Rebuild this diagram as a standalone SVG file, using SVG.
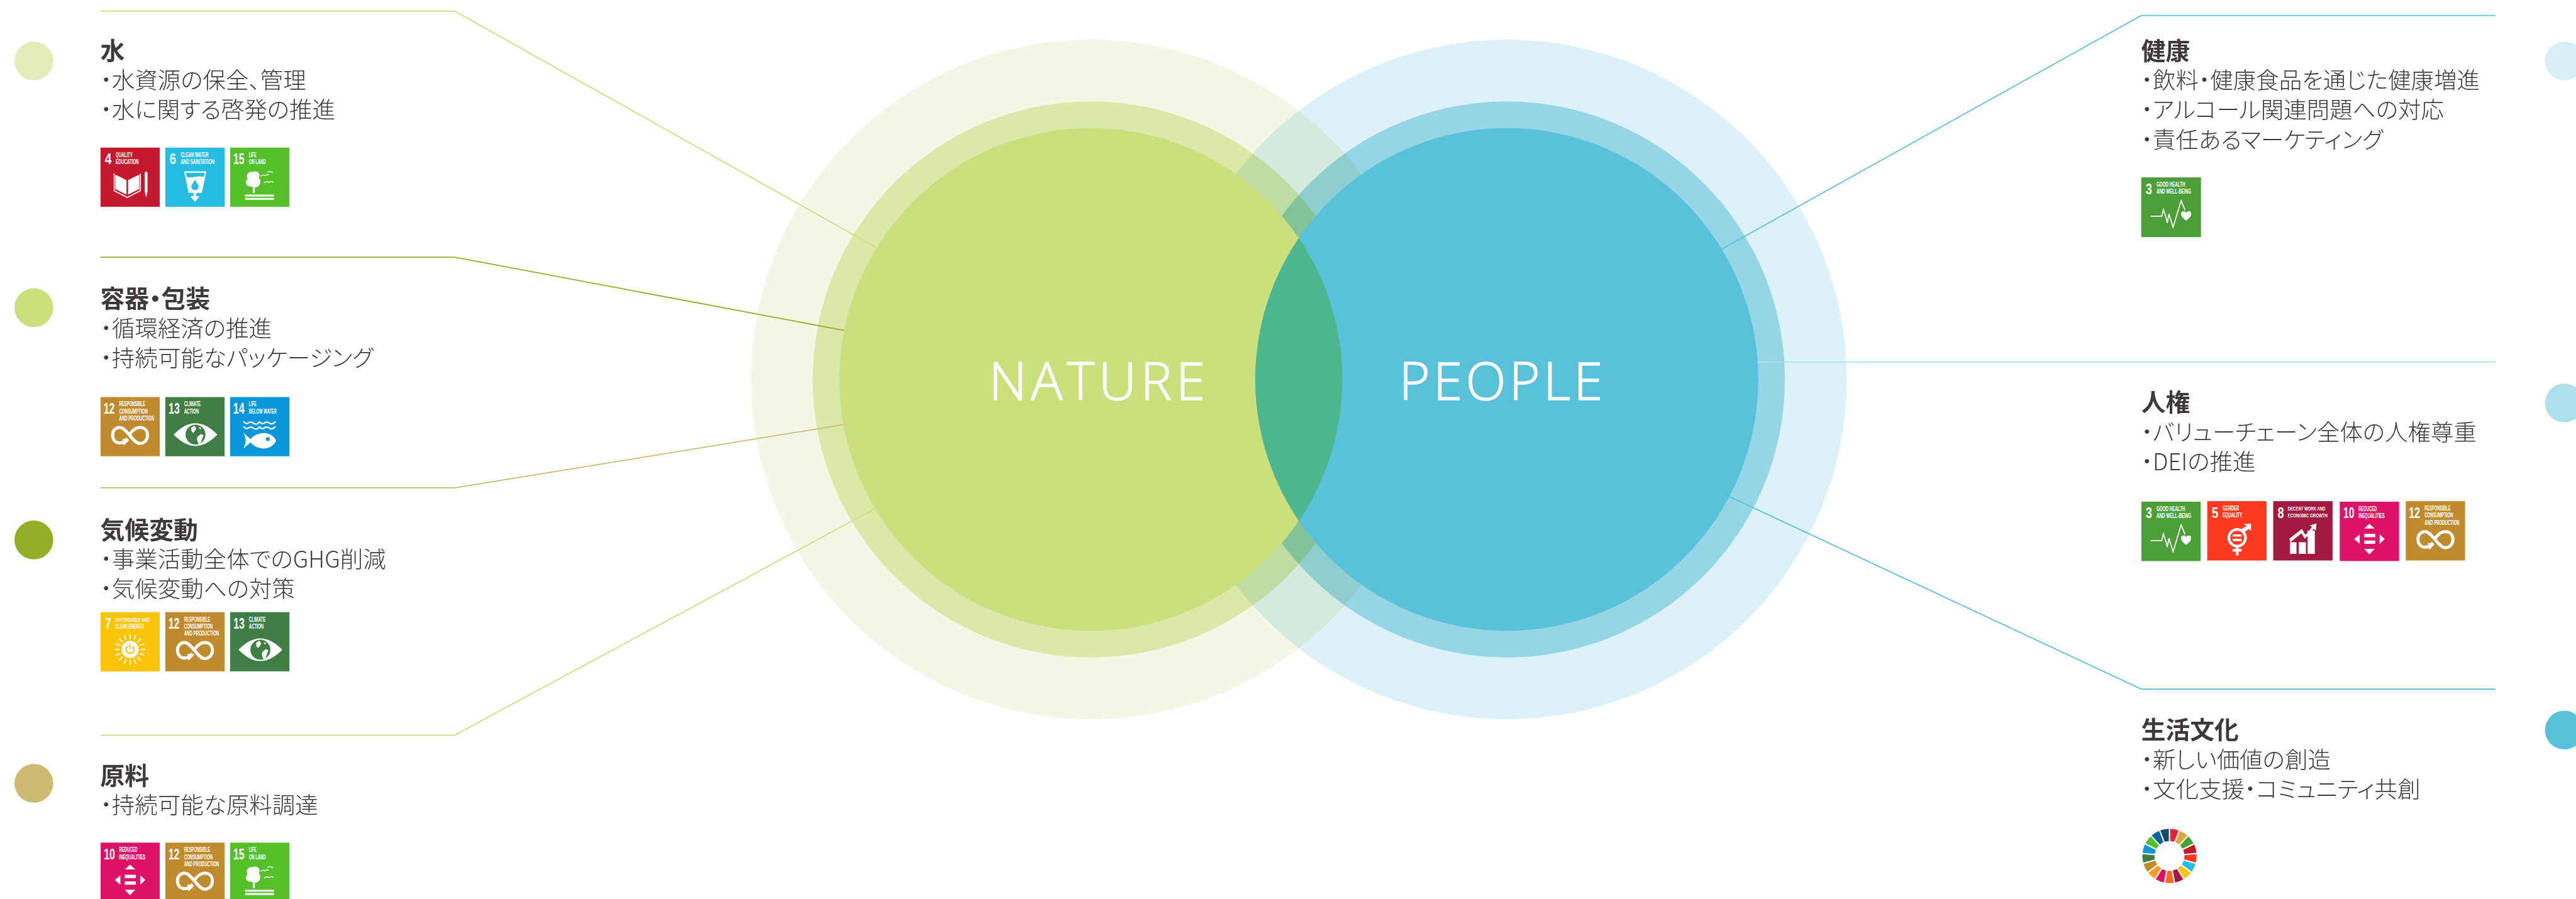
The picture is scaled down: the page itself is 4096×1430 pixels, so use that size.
<svg xmlns="http://www.w3.org/2000/svg" width="4096" height="1430" viewBox="0 0 4096 1430">
<style>
text{font-family:"Noto Sans CJK JP","Noto Sans",sans-serif}
.t{font-size:44px;font-weight:700;fill:#3e3a39;font-feature-settings:"palt"}
.b{font-size:41.400px;font-weight:300;fill:#3e3a39;font-feature-settings:"palt"}
.c{fill:none;stroke-width:2}
.v{font-family:"Open Sans",sans-serif;font-weight:300;font-size:95px;fill:#fff;stroke:#fff;stroke-width:1.500}
.n{font-family:"Liberation Sans Narrow","Liberation Sans",sans-serif;font-weight:700;font-size:27px;fill:#fff}
.l{font-family:"Liberation Sans Narrow","Liberation Sans",sans-serif;font-weight:700;font-size:11.500px;fill:#fff}
.s{font-size:9.500px}
.k{fill:none;stroke:#fff}
.w{fill:none;stroke-width:22;stroke-dasharray:1 16}
</style>
<defs>
<clipPath id="clipL"><circle cx="1967" cy="684.5" r="453.5"/></clipPath>
<g id="i4" fill="#fff"><path d="M27 49 47 59V85L27 75Z"/><path d="M70 49 50 59V85L70 75Z"/><path class="k" stroke-width="2" d="M25 47V78L48.5 90 72 78V47"/><path d="M80 46a2.5 2.5 0 0 1 5 0V80L82.5 90 80 80Z"/></g>
<g id="i6"><path fill="#fff" d="M34 43H74L66 82H56V88H62L53.5 98 45 88H51V82H42Z"/><path fill="#26bde2" d="M37 46H71L69.5 53Q62 51 54 53T38.5 53ZM53.5 58C50 65 47 67 47 70.5a6.5 6.5 0 0 0 13 0C60 67 57 65 53.5 58Z"/></g>
<g id="i15" fill="#fff"><circle cx="38" cy="52" r="8"/><circle cx="45" cy="51" r="8"/><circle cx="36" cy="63" r="7.5"/><circle cx="44" cy="62" r="10.500"/><rect x="41" y="73" width="3.500" height="9"/><rect x="27" y="85" width="52" height="3.500"/><rect x="27" y="91" width="52" height="3.500"/><path class="k" stroke-width="1.500" d="M55 52Q60 48 63 51Q66 48 70 50M67 45Q71 42 73 44Q75 43 77 46M61 64Q66 60 70 63Q74 60 78 63"/></g>
<g id="i12"><path class="k" stroke-width="5.500" d="M35 83C26 83 22 76 22 69C22 61 27 55 35 55C47 55 59 84 71 84C80 84 85 77 85 69C85 61 80 55 71 55C64 55 58 60 53 67M49 75C46 79 42 83 35 83"/><path fill="#fff" d="M40 75 52 78 42 88Z"/></g>
<g id="i13"><path fill="#fff" d="M15 68Q35 47.500 54.500 47.500T94 68Q74 88.500 54.500 88.500T15 68Z"/><circle cx="54.500" cy="68" r="18" fill="#3f7e44"/><path fill="#fff" d="M47 55l6-3 3 5-3 5-3 3-3-4ZM58 72l6-5 5 2-3 8-2 6-4 2-3-8ZM60 54l5 2-2 3Z"/></g>
<g id="i14"><path class="k" stroke-width="2.500" d="M24 44Q29 51 34 46Q39 44 43 48Q48 51 53 45Q58 51 63 46Q68 44 72 48Q77 50 82 44M24 53Q29 60 34 55Q39 53 43 57Q48 60 53 54Q58 60 63 55Q68 53 72 57Q77 59 82 53"/><path fill="#fff" d="M24 65C30 70 34 74 37 76C42 69 52 65 61 65C72 65 80 72 83 79C80 86 72 93 61 93C52 93 42 89 37 82C34 84 30 88 24 93C26 88 28 84 28 79C28 74 26 70 24 65Z"/><circle cx="68" cy="76" r="3.500" fill="#0a97d9"/></g>
<g id="i7"><circle cx="53.400" cy="67.500" r="23" fill="none" stroke="#fff" stroke-width="9" pathLength="16" stroke-dasharray=".22 .78" stroke-dashoffset=".11"/><circle cx="53.400" cy="67.500" r="15.500" fill="#fff"/><path fill="none" stroke="#fcc30b" stroke-width="2.500" d="M49 62A7 7 0 1 0 58 62M53.400 58V67"/></g>
<g id="i10" fill="#fff"><path d="M53.500 40 63 48.500H44ZM44 58H64V64H44ZM44 70H64V76H44ZM36 59V76L26 67.500ZM72 59V76L81 67.500ZM44 85H63L53.500 95Z"/></g>
<g id="i3"><path class="k" stroke-width="2" d="M17 70H37L40 58 45 73 47 82 50 66 57.400 90 72 42 79 59"/><path fill="#fff" d="M81 78C75 73 72 70 72 66A4.500 4.500 0 0 1 81 65A4.500 4.500 0 0 1 90 66C90 70 87 73 81 78Z"/></g>
<g id="i5"><circle cx="54" cy="66" r="15" class="k" stroke-width="5"/><path fill="#fff" d="M46 60H62V64H46ZM46 68H62V72H46ZM51.500 80H56.500V86H62V91H56.500V98H51.500V91H46V86H51.500ZM62 50 71 45 66 41H79V54L75 50 67 56Z"/></g>
<g id="i8" fill="#fff"><path d="M30 74H42V95H30ZM46 74H59V95H46ZM62 53H75V95H62ZM29 68 52 50 58 61 70 47 66 44 78 40 77 53 73 50 57 68 51 58 31 74Z"/></g>
</defs>
<rect width="4096" height="1430" fill="#fff"/>
<g transform="scale(.88181)">
<g id="venn-halos">
<g id="halo-nature" style="mix-blend-mode:multiply"><circle cx="1967" cy="684.500" r="613" fill="#f4f7e6"/><circle cx="1967" cy="684.500" r="501.500" fill="#dbe8a8"/></g>
<g id="halo-people" style="mix-blend-mode:multiply"><circle cx="2717" cy="684.500" r="613" fill="#ddf2f8"/><circle cx="2717" cy="684.500" r="501.500" fill="#96d5e6"/></g>
</g>
<g id="connectors">
<path class="c" stroke="#cbdf7c" d="M181 20H820L1581 447"/>
<path class="c" stroke="#94ae27" d="M181 464H820L1522 596"/>
<path class="c" stroke="#cdb96f" d="M181 880H820L1521 766"/>
<path class="c" stroke="#cbdf7c" d="M181 1326H820L1577 918"/>
<path class="c" stroke="#5ac1db" d="M4500 28H3861L3105 449"/>
<path class="c" stroke="#a9e0ea" d="M4500 653H3165"/>
<path class="c" stroke="#5ac1db" d="M4500 1243H3861L3119 896"/>
</g>
<g id="nature"><circle cx="1967" cy="684.500" r="453.500" fill="#cbdf7c"/></g>
<g id="people"><circle cx="2717" cy="684.500" r="453.500" fill="#5ac1db"/></g>
<g id="overlap"><circle cx="2717" cy="684.500" r="453.500" fill="#4cb68e" clip-path="url(#clipL)"/></g>
<text class="v" x="1783" y="721" textLength="390">NATURE</text>
<text class="v" x="2523" y="721" textLength="367">PEOPLE</text>

<g id="n-water"><circle cx="61" cy="110" r="35" fill="#e3edb9"/>
<text class="t" x="181" y="108">水</text><text class="b" x="181" y="159.500">・水資源の保全、管理</text><text class="b" x="181" y="213.500">・水に関する啓発の推進</text>
<g transform="translate(181,266)"><rect width="107" height="107" fill="#c5192d"/><text class="n" x="8" y="30" textLength="12" lengthAdjust="spacingAndGlyphs">4</text><text class="l" x="27.700" y="18" textLength="30.500" lengthAdjust="spacingAndGlyphs">QUALITY</text><text class="l" x="27.700" y="30.500" textLength="41.500" lengthAdjust="spacingAndGlyphs">EDUCATION</text><use href="#i4"/></g>
<g transform="translate(298,266)"><rect width="107" height="107" fill="#26bde2"/><text class="n" x="8" y="30" textLength="11.500" lengthAdjust="spacingAndGlyphs">6</text><text class="l" x="27.700" y="18" textLength="50" lengthAdjust="spacingAndGlyphs">CLEAN WATER</text><text class="l" x="27.700" y="30.500" textLength="61" lengthAdjust="spacingAndGlyphs">AND SANITATION</text><use href="#i6"/></g>
<g transform="translate(415,266)"><rect width="107" height="107" fill="#56c02b"/><text class="n" x="5.700" y="30" textLength="20" lengthAdjust="spacingAndGlyphs">15</text><text class="l" x="33.700" y="18" textLength="13.500" lengthAdjust="spacingAndGlyphs">LIFE</text><text class="l" x="33.700" y="30.500" textLength="30.500" lengthAdjust="spacingAndGlyphs">ON LAND</text><use href="#i15"/></g>
</g>

<g id="n-packaging"><circle cx="61" cy="555" r="35" fill="#cbdf7c"/>
<text class="t" x="181" y="554">容器・包装</text><text class="b" x="181" y="607.500">・循環経済の推進</text><text class="b" x="181" y="661.500">・持続可能なパッケージング</text>
<g transform="translate(181,716)"><rect width="107" height="107" fill="#bf8b2e"/><text class="n" x="5.700" y="30" textLength="20" lengthAdjust="spacingAndGlyphs">12</text><text class="l" x="33.900" y="17" textLength="47" lengthAdjust="spacingAndGlyphs">RESPONSIBLE</text><text class="l" x="33.900" y="29.800" textLength="51.500" lengthAdjust="spacingAndGlyphs">CONSUMPTION</text><text class="l" x="33.900" y="42.500" textLength="63" lengthAdjust="spacingAndGlyphs">AND PRODUCTION</text><use href="#i12"/></g>
<g transform="translate(298,716)"><rect width="107" height="107" fill="#3f7e44"/><text class="n" x="6" y="30" textLength="20" lengthAdjust="spacingAndGlyphs">13</text><text class="l" x="33.900" y="17" textLength="30" lengthAdjust="spacingAndGlyphs">CLIMATE</text><text class="l" x="33.900" y="29.800" textLength="26.500" lengthAdjust="spacingAndGlyphs">ACTION</text><use href="#i13"/></g>
<g transform="translate(415,716)"><rect width="107" height="107" fill="#0a97d9"/><text class="n" x="5.500" y="30" textLength="20.500" lengthAdjust="spacingAndGlyphs">14</text><text class="l" x="33.900" y="17" textLength="13.500" lengthAdjust="spacingAndGlyphs">LIFE</text><text class="l" x="33.900" y="29.800" textLength="50" lengthAdjust="spacingAndGlyphs">BELOW WATER</text><use href="#i14"/></g>
</g>

<g id="n-climate"><circle cx="61" cy="974" r="35" fill="#94ae27"/>
<text class="t" x="181" y="972">気候変動</text><text class="b" x="181" y="1024.500">・事業活動全体でのGHG削減</text><text class="b" x="181" y="1077.500">・気候変動への対策</text>
<g transform="translate(181,1104)"><rect width="107" height="107" fill="#fcc30b"/><text class="n" x="8.600" y="30" textLength="10.500" lengthAdjust="spacingAndGlyphs">7</text><text class="l s" x="26.400" y="17" textLength="62.600" lengthAdjust="spacingAndGlyphs">AFFORDABLE AND</text><text class="l" x="26.400" y="29.800" textLength="52" lengthAdjust="spacingAndGlyphs">CLEAN ENERGY</text><use href="#i7"/></g>
<g transform="translate(298,1104)"><rect width="107" height="107" fill="#bf8b2e"/><text class="n" x="5.700" y="30" textLength="20" lengthAdjust="spacingAndGlyphs">12</text><text class="l" x="33.900" y="17" textLength="47" lengthAdjust="spacingAndGlyphs">RESPONSIBLE</text><text class="l" x="33.900" y="29.800" textLength="51.500" lengthAdjust="spacingAndGlyphs">CONSUMPTION</text><text class="l" x="33.900" y="42.500" textLength="63" lengthAdjust="spacingAndGlyphs">AND PRODUCTION</text><use href="#i12"/></g>
<g transform="translate(415,1104)"><rect width="107" height="107" fill="#3f7e44"/><text class="n" x="6" y="30" textLength="20" lengthAdjust="spacingAndGlyphs">13</text><text class="l" x="33.900" y="17" textLength="30" lengthAdjust="spacingAndGlyphs">CLIMATE</text><text class="l" x="33.900" y="29.800" textLength="26.500" lengthAdjust="spacingAndGlyphs">ACTION</text><use href="#i13"/></g>
</g>

<g id="n-materials"><circle cx="61" cy="1413" r="35" fill="#cdb96f"/>
<text class="t" x="181" y="1415">原料</text><text class="b" x="181" y="1467.500">・持続可能な原料調達</text>
<g transform="translate(181,1520)"><rect width="107" height="107" fill="#dd1367"/><text class="n" x="6.300" y="30" textLength="20" lengthAdjust="spacingAndGlyphs">10</text><text class="l" x="33.900" y="17" textLength="33" lengthAdjust="spacingAndGlyphs">REDUCED</text><text class="l" x="33.900" y="29.800" textLength="47" lengthAdjust="spacingAndGlyphs">INEQUALITIES</text><use href="#i10"/></g>
<g transform="translate(298,1520)"><rect width="107" height="107" fill="#bf8b2e"/><text class="n" x="5.700" y="30" textLength="20" lengthAdjust="spacingAndGlyphs">12</text><text class="l" x="33.900" y="17" textLength="47" lengthAdjust="spacingAndGlyphs">RESPONSIBLE</text><text class="l" x="33.900" y="29.800" textLength="51.500" lengthAdjust="spacingAndGlyphs">CONSUMPTION</text><text class="l" x="33.900" y="42.500" textLength="63" lengthAdjust="spacingAndGlyphs">AND PRODUCTION</text><use href="#i12"/></g>
<g transform="translate(415,1520)"><rect width="107" height="107" fill="#56c02b"/><text class="n" x="5.700" y="30" textLength="20" lengthAdjust="spacingAndGlyphs">15</text><text class="l" x="33.700" y="17" textLength="13.500" lengthAdjust="spacingAndGlyphs">LIFE</text><text class="l" x="33.700" y="29.800" textLength="30.500" lengthAdjust="spacingAndGlyphs">ON LAND</text><use href="#i15"/></g>
</g>

<g id="n-health"><circle cx="4624" cy="110" r="35" fill="#d7eff5"/>
<text class="t" x="3861" y="108">健康</text><text class="b" x="3861" y="159.500">・飲料・健康食品を通じた健康増進</text><text class="b" x="3861" y="213.500">・アルコール関連問題への対応</text><text class="b" x="3861" y="267.500">・責任あるマーケティング</text>
<g transform="translate(3861,320)"><rect width="107" height="107" fill="#4c9f38"/><text class="n" x="8" y="30" textLength="11.500" lengthAdjust="spacingAndGlyphs">3</text><text class="l" x="27.600" y="17" textLength="51.500" lengthAdjust="spacingAndGlyphs">GOOD HEALTH</text><text class="l" x="27.600" y="29.800" textLength="62.500" lengthAdjust="spacingAndGlyphs">AND WELL-BEING</text><use href="#i3"/></g>
</g>

<g id="n-rights"><circle cx="4624" cy="727" r="35" fill="#ace0ec"/>
<text class="t" x="3861" y="742">人権</text><text class="b" x="3861" y="795.500">・バリューチェーン全体の人権尊重</text><text class="b" x="3861" y="848.500">・DEIの推進</text>
<g transform="translate(3861,905)"><rect width="107" height="107" fill="#4c9f38"/><text class="n" x="8" y="30" textLength="11.500" lengthAdjust="spacingAndGlyphs">3</text><text class="l" x="27.600" y="17" textLength="51.500" lengthAdjust="spacingAndGlyphs">GOOD HEALTH</text><text class="l" x="27.600" y="29.800" textLength="62.500" lengthAdjust="spacingAndGlyphs">AND WELL-BEING</text><use href="#i3"/></g>
<g transform="translate(3980,904)"><rect width="107" height="107" fill="#ff3a21"/><text class="n" x="8" y="30" textLength="12" lengthAdjust="spacingAndGlyphs">5</text><text class="l" x="28" y="17" textLength="29.400" lengthAdjust="spacingAndGlyphs">GENDER</text><text class="l" x="28" y="29.800" textLength="35" lengthAdjust="spacingAndGlyphs">EQUALITY</text><use href="#i5"/></g>
<g transform="translate(4099,904)"><rect width="107" height="107" fill="#a21942"/><text class="n" x="8" y="30" textLength="11.500" lengthAdjust="spacingAndGlyphs">8</text><text class="l s" x="26.400" y="17" textLength="67.600" lengthAdjust="spacingAndGlyphs">DECENT WORK AND</text><text class="l s" x="26.400" y="29.800" textLength="71.600" lengthAdjust="spacingAndGlyphs">ECONOMIC GROWTH</text><use href="#i8"/></g>
<g transform="translate(4219,905)"><rect width="107" height="107" fill="#dd1367"/><text class="n" x="6.300" y="30" textLength="20" lengthAdjust="spacingAndGlyphs">10</text><text class="l" x="33.900" y="17" textLength="33" lengthAdjust="spacingAndGlyphs">REDUCED</text><text class="l" x="33.900" y="29.800" textLength="47" lengthAdjust="spacingAndGlyphs">INEQUALITIES</text><use href="#i10"/></g>
<g transform="translate(4338,904)"><rect width="107" height="107" fill="#bf8b2e"/><text class="n" x="5.700" y="30" textLength="20" lengthAdjust="spacingAndGlyphs">12</text><text class="l" x="33.900" y="17" textLength="47" lengthAdjust="spacingAndGlyphs">RESPONSIBLE</text><text class="l" x="33.900" y="29.800" textLength="51.500" lengthAdjust="spacingAndGlyphs">CONSUMPTION</text><text class="l" x="33.900" y="42.500" textLength="63" lengthAdjust="spacingAndGlyphs">AND PRODUCTION</text><use href="#i12"/></g>
</g>

<g id="n-culture"><circle cx="4624" cy="1317" r="35" fill="#5ac1db"/>
<text class="t" x="3861" y="1332">生活文化</text><text class="b" x="3861" y="1385.500">・新しい価値の創造</text><text class="b" x="3861" y="1439.500">・文化支援・コミュニティ共創</text>
<g id="sdg-wheel" transform="translate(3912,1544)">
<g transform="rotate(-90)">
<circle class="w" r="38" pathLength="17" stroke="#e5243b"/>
<circle class="w" r="38" pathLength="17" stroke="#dda63a" transform="rotate(21.176)"/>
<circle class="w" r="38" pathLength="17" stroke="#4c9f38" transform="rotate(42.353)"/>
<circle class="w" r="38" pathLength="17" stroke="#c5192d" transform="rotate(63.529)"/>
<circle class="w" r="38" pathLength="17" stroke="#ff3a21" transform="rotate(84.706)"/>
<circle class="w" r="38" pathLength="17" stroke="#26bde2" transform="rotate(105.882)"/>
<circle class="w" r="38" pathLength="17" stroke="#fcc30b" transform="rotate(127.059)"/>
<circle class="w" r="38" pathLength="17" stroke="#a21942" transform="rotate(148.235)"/>
<circle class="w" r="38" pathLength="17" stroke="#fd6925" transform="rotate(169.412)"/>
<circle class="w" r="38" pathLength="17" stroke="#dd1367" transform="rotate(190.588)"/>
<circle class="w" r="38" pathLength="17" stroke="#fd9d24" transform="rotate(211.765)"/>
<circle class="w" r="38" pathLength="17" stroke="#bf8b2e" transform="rotate(232.941)"/>
<circle class="w" r="38" pathLength="17" stroke="#3f7e44" transform="rotate(254.118)"/>
<circle class="w" r="38" pathLength="17" stroke="#0a97d9" transform="rotate(275.294)"/>
<circle class="w" r="38" pathLength="17" stroke="#56c02b" transform="rotate(296.471)"/>
<circle class="w" r="38" pathLength="17" stroke="#00689d" transform="rotate(317.647)"/>
<circle class="w" r="38" pathLength="17" stroke="#19486a" transform="rotate(338.824)"/>
<path stroke="#fff" stroke-width="2.400" d="M25 0H51" transform="rotate(0)"/>
<path stroke="#fff" stroke-width="2.400" d="M25 0H51" transform="rotate(21.176)"/>
<path stroke="#fff" stroke-width="2.400" d="M25 0H51" transform="rotate(42.353)"/>
<path stroke="#fff" stroke-width="2.400" d="M25 0H51" transform="rotate(63.529)"/>
<path stroke="#fff" stroke-width="2.400" d="M25 0H51" transform="rotate(84.706)"/>
<path stroke="#fff" stroke-width="2.400" d="M25 0H51" transform="rotate(105.882)"/>
<path stroke="#fff" stroke-width="2.400" d="M25 0H51" transform="rotate(127.059)"/>
<path stroke="#fff" stroke-width="2.400" d="M25 0H51" transform="rotate(148.235)"/>
<path stroke="#fff" stroke-width="2.400" d="M25 0H51" transform="rotate(169.412)"/>
<path stroke="#fff" stroke-width="2.400" d="M25 0H51" transform="rotate(190.588)"/>
<path stroke="#fff" stroke-width="2.400" d="M25 0H51" transform="rotate(211.765)"/>
<path stroke="#fff" stroke-width="2.400" d="M25 0H51" transform="rotate(232.941)"/>
<path stroke="#fff" stroke-width="2.400" d="M25 0H51" transform="rotate(254.118)"/>
<path stroke="#fff" stroke-width="2.400" d="M25 0H51" transform="rotate(275.294)"/>
<path stroke="#fff" stroke-width="2.400" d="M25 0H51" transform="rotate(296.471)"/>
<path stroke="#fff" stroke-width="2.400" d="M25 0H51" transform="rotate(317.647)"/>
<path stroke="#fff" stroke-width="2.400" d="M25 0H51" transform="rotate(338.824)"/>
</g></g>
</g>
</g>
</svg>
